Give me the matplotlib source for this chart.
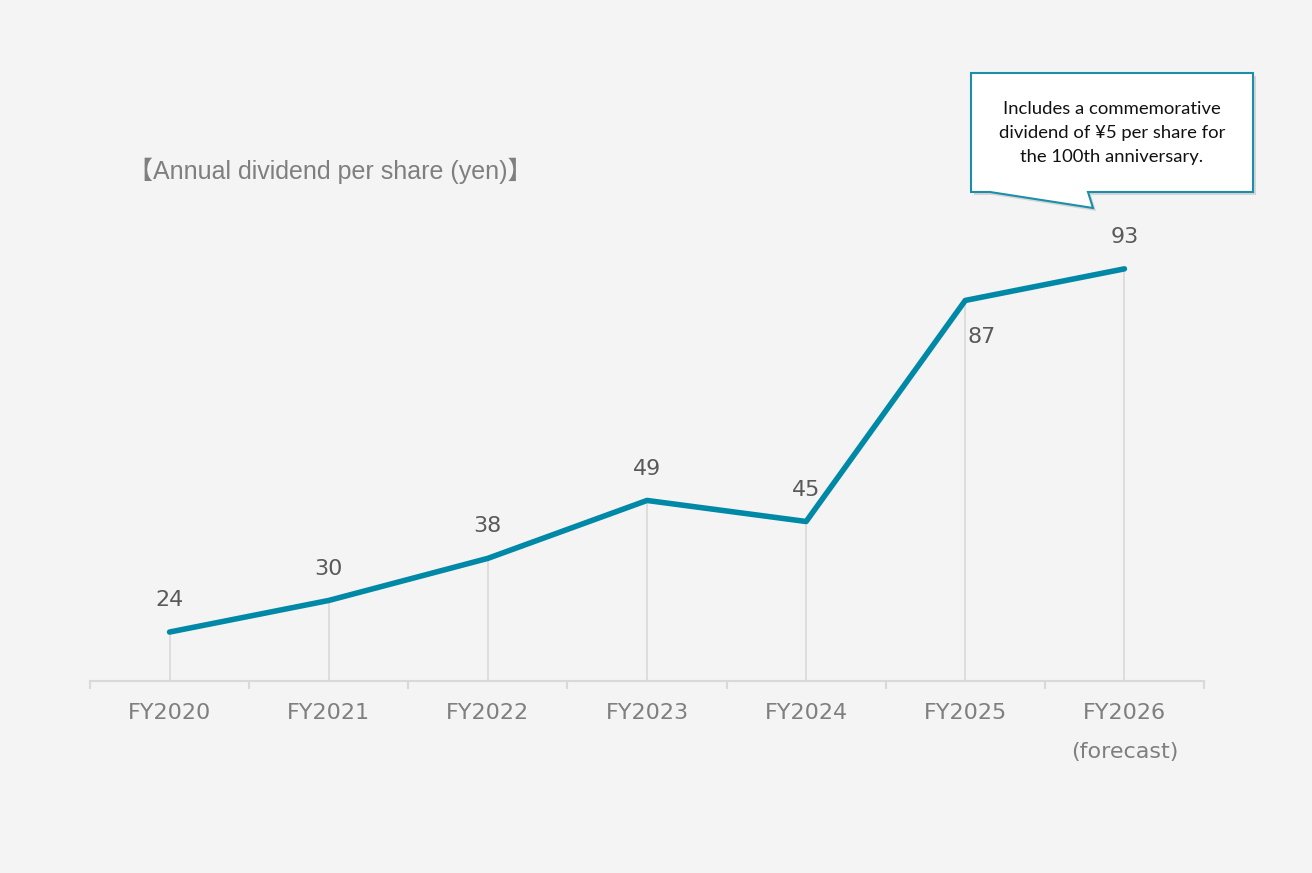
import matplotlib
matplotlib.use("Agg")
import matplotlib.pyplot as plt
from matplotlib.patches import Polygon
from matplotlib.ticker import FixedLocator

categories = ["FY2020", "FY2021", "FY2022", "FY2023", "FY2024", "FY2025", "FY2026\n(forecast)"]
dividends = [24, 30, 38, 49, 45, 87, 93]
label_above = [True, True, True, True, True, False, True]
title_text = "【Annual dividend per share (yen)】"
note_text = "Includes a commemorative\ndividend of ¥5 per share for\nthe 100th anniversary."

W, H = 1312, 873
BG = "#f4f4f4"
LINE = "#0089a6"
GRID = "#d9d9d9"

fig = plt.figure(figsize=(W / 100, H / 100), dpi=100, facecolor=BG)
ax = fig.add_axes([90 / W, (H - 681) / H, (1204 - 90) / W, (681 - 232) / H])
ax.set_facecolor(BG)

x = list(range(len(categories)))
ymin = 14.7
ax.set_xlim(-0.5, len(categories) - 0.5)
ax.set_ylim(ymin, 100)

ax.vlines(x, ymin, dividends, color=GRID, lw=1.2, zorder=1)
ax.plot(x, dividends, color=LINE, lw=4, solid_capstyle="round", solid_joinstyle="round", zorder=3)

num_font = ["DejaVu Sans"]
for xi, v, up in zip(x, dividends, label_above):
    if up:
        ax.annotate(str(v), (xi, v), xytext=(0, 23), textcoords="offset points",
                    ha="center", va="center", fontsize=16, color="#595959", family=num_font)
    else:
        ax.annotate(str(v), (xi, v), xytext=(12, -26), textcoords="offset points",
                    ha="center", va="center", fontsize=16, color="#595959", family=num_font)

for s in ["top", "right", "left"]:
    ax.spines[s].set_visible(False)
ax.spines["bottom"].set_color(GRID)
ax.spines["bottom"].set_linewidth(1.5)
ax.set_yticks([])
ax.set_xticks(x)
ax.set_xticklabels(categories, fontsize=16, color="#7f7f7f", family=num_font, linespacing=2.2)
ax.tick_params(axis="x", which="major", length=0, pad=16)
ax.xaxis.set_minor_locator(FixedLocator([i - 0.5 for i in range(len(categories) + 1)]))
ax.tick_params(axis="x", which="minor", length=6, width=1.5, color=GRID, direction="out")

fig.text(128 / W, (H - 171) / H, title_text, ha="left", va="center", fontsize=18,
         color="#7f7f7f", family=["Liberation Sans", "Noto Sans CJK JP"])

# callout shape (pixel coords converted to figure fraction)
def fp(pts, dx=0, dy=0):
    return [((px + dx) / W, (H - (py + dy)) / H) for px, py in pts]

callout = [(971, 73), (1253, 73), (1253, 192), (1088, 192), (1093, 208), (990, 192), (971, 192)]
shadow = Polygon(fp(callout, 3, 3), closed=True, transform=fig.transFigure,
                 facecolor="#c8c8c8", edgecolor="none", alpha=0.7, zorder=5)
box = Polygon(fp(callout), closed=True, transform=fig.transFigure,
              facecolor="white", edgecolor="#1b8fa9", lw=1.5, zorder=6, joinstyle="miter")
fig.patches.extend([shadow, box])
fig.text(1112 / W, (H - 133) / H, note_text, ha="center", va="center", fontsize=13.3,
         color="#111111", family=["Lato", "DejaVu Sans"], linespacing=1.62, zorder=7)

fig.savefig("out.png", dpi=100, facecolor=BG)
